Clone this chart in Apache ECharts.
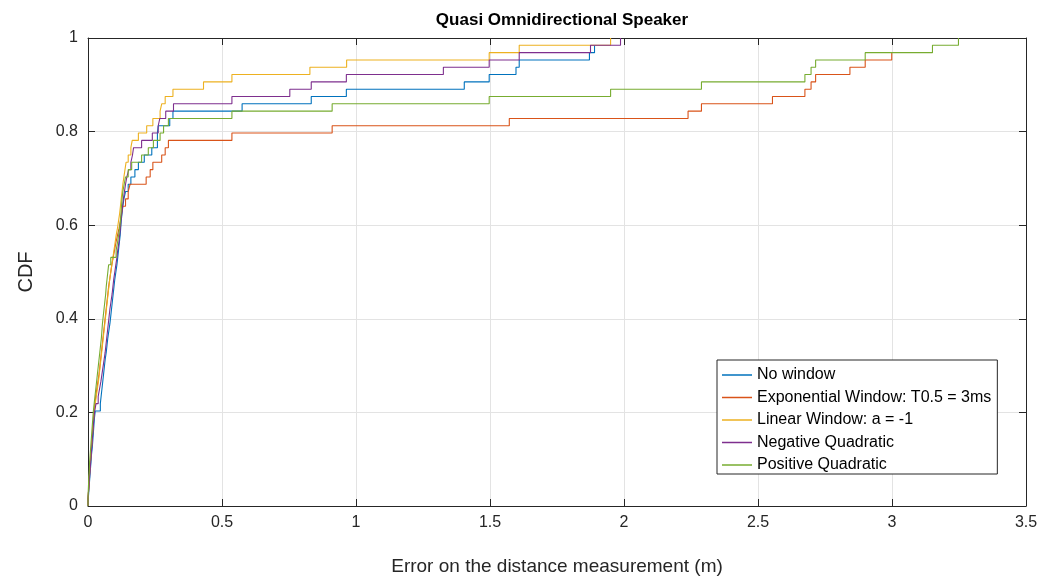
<!DOCTYPE html>
<html>
<head>
<meta charset="utf-8">
<script src="https://cdn.jsdelivr.net/npm/echarts@6/dist/echarts.min.js"></script>
<style>
  html, body { margin: 0; padding: 0; background: #fff; }
  #chart { width: 1045px; height: 577px; }
</style>
</head>
<body>
<div id="chart"></div>
<script>
  // sorted error samples (m) per method, 64 measurements each
  const seriesNames = ['No window', 'Exponential Window: T0.5 = 3ms', 'Linear Window: a = -1', 'Negative Quadratic', 'Positive Quadratic']
  const sampleCount = 64
  const xTicks = [0, 0.5, 1, 1.5, 2, 2.5, 3, 3.5]
  const yTicks = [0, 0.2, 0.4, 0.6, 0.8, 1]

  const noWindow = [
    0.001, 0.003, 0.005, 0.007, 0.009, 0.011, 0.013, 0.016, 0.018, 0.020,
    0.022, 0.024, 0.027, 0.046, 0.049, 0.052, 0.055, 0.058, 0.061, 0.064,
    0.068, 0.071, 0.074, 0.078, 0.082, 0.085, 0.088, 0.091, 0.094, 0.097,
    0.100, 0.104, 0.108, 0.111, 0.114, 0.117, 0.120, 0.122, 0.124, 0.127,
    0.130, 0.134, 0.140, 0.150, 0.160, 0.175, 0.188, 0.210, 0.238, 0.259,
    0.259, 0.262, 0.305, 0.317, 0.575, 0.833, 0.964, 1.404, 1.497, 1.597,
    1.609, 1.871, 1.890
  ]
  const expWindow = [
    0.000, 0.002, 0.004, 0.005, 0.007, 0.009, 0.011, 0.013, 0.015, 0.017,
    0.019, 0.021, 0.023, 0.026, 0.029, 0.033, 0.037, 0.041, 0.044, 0.047,
    0.050, 0.053, 0.056, 0.059, 0.062, 0.065, 0.068, 0.071, 0.074, 0.077,
    0.081, 0.085, 0.089, 0.094, 0.099, 0.104, 0.110, 0.116, 0.121, 0.125,
    0.130, 0.140, 0.150, 0.157, 0.217, 0.232, 0.242, 0.275, 0.288, 0.300,
    0.537, 0.911, 1.572, 2.239, 2.289, 2.554, 2.675, 2.698, 2.715, 2.843,
    2.900, 2.999
  ]
  const linWindow = [
    0.000, 0.002, 0.003, 0.005, 0.007, 0.009, 0.011, 0.013, 0.015, 0.017,
    0.019, 0.021, 0.024, 0.027, 0.031, 0.035, 0.039, 0.042, 0.045, 0.048,
    0.051, 0.054, 0.057, 0.060, 0.063, 0.066, 0.069, 0.072, 0.075, 0.078,
    0.081, 0.085, 0.089, 0.093, 0.097, 0.101, 0.105, 0.110, 0.114, 0.118,
    0.121, 0.124, 0.127, 0.130, 0.134, 0.138, 0.142, 0.150, 0.160, 0.165,
    0.188, 0.219, 0.242, 0.269, 0.275, 0.288, 0.317, 0.431, 0.537, 0.828,
    0.965, 1.497, 1.609, 1.950
  ]
  const negQuad = [
    0.000, 0.002, 0.004, 0.006, 0.008, 0.010, 0.012, 0.014, 0.016, 0.018,
    0.020, 0.022, 0.025, 0.030, 0.038, 0.043, 0.048, 0.052, 0.056, 0.060,
    0.064, 0.067, 0.070, 0.073, 0.076, 0.079, 0.082, 0.086, 0.090, 0.093,
    0.096, 0.100, 0.104, 0.108, 0.111, 0.115, 0.118, 0.121, 0.123, 0.126,
    0.129, 0.132, 0.136, 0.140, 0.145, 0.152, 0.160, 0.166, 0.170, 0.200,
    0.240, 0.262, 0.268, 0.290, 0.319, 0.537, 0.753, 0.833, 0.964, 1.326,
    1.497, 1.609, 1.875, 1.987
  ]
  const posQuad = [
    0.000, 0.001, 0.002, 0.003, 0.005, 0.006, 0.008, 0.010, 0.012, 0.014,
    0.016, 0.018, 0.020, 0.023, 0.026, 0.029, 0.032, 0.035, 0.038, 0.041,
    0.044, 0.047, 0.050, 0.052, 0.054, 0.057, 0.060, 0.063, 0.066, 0.068,
    0.071, 0.074, 0.077, 0.085, 0.105, 0.110, 0.114, 0.118, 0.121, 0.123,
    0.125, 0.127, 0.130, 0.135, 0.140, 0.150, 0.163, 0.200, 0.225, 0.244,
    0.269, 0.282, 0.300, 0.537, 0.911, 1.497, 1.950, 2.289, 2.675, 2.698,
    2.715, 2.900, 3.151, 3.248
  ]

  const colors = ['#0072BD', '#D95319', '#EDB120', '#7E2F8E', '#77AC30']
  const axisColor = '#262626'
  const font = 'Liberation Sans, Arial, Helvetica, sans-serif'

  // empirical cdf points: start at (x1, 0), then (xk, k/n)
  function cdfPoints (samples) {
    let pts = [[samples[0], 0]]
    samples.forEach((x, i) => {
      pts.push([x, (i + 1) / sampleCount])
    })
    return pts
  }

  const chart = echarts.init(document.getElementById('chart'))
  const allSamples = [noWindow, expWindow, linWindow, negQuad, posQuad]

  const tickLabel = { color: axisColor, fontSize: 16, fontFamily: font }
  const boxAxis = {
    min: 0,
    axisLine: { show: true, onZero: false, lineStyle: { color: axisColor, width: 1 } },
    axisTick: { show: true, inside: true, length: 7, lineStyle: { color: axisColor } },
    axisLabel: { show: false },
    splitLine: { show: false }
  }

  let options = {
    animation: false,
    backgroundColor: '#fff',
    color: colors,
    title: {
      text: 'Quasi Omnidirectional Speaker',
      left: 557,
      top: 7,
      textAlign: 'center',
      textStyle: { fontSize: 17, fontWeight: 'bold', color: '#000', fontFamily: font }
    },
    grid: { left: 88, right: 19, top: 38, bottom: 71, outerBoundsMode: 'none' },
    legend: {
      orient: 'vertical',
      left: 717,
      top: 360,
      data: seriesNames,
      icon: 'rect',
      itemWidth: 30,
      itemHeight: 1.5,
      itemGap: 6.5,
      padding: [7, 6, 1, 5],
      borderColor: '#262626',
      borderWidth: 1,
      backgroundColor: '#fff',
      textStyle: { fontSize: 16, lineHeight: 15, color: '#000', fontFamily: font }
    },
    xAxis: [
      {
        type: 'value',
        min: 0,
        max: xTicks[xTicks.length - 1],
        interval: 0.5,
        name: 'Error on the distance measurement (m)',
        nameLocation: 'middle',
        nameGap: 51,
        nameTextStyle: { fontSize: 19, color: axisColor, fontFamily: font },
        axisLine: { show: true, onZero: false, lineStyle: { color: axisColor, width: 1 } },
        axisTick: { show: true, inside: true, length: 7, lineStyle: { color: axisColor } },
        axisLabel: Object.assign({ margin: 9 }, tickLabel),
        splitLine: { show: true, lineStyle: { color: '#e3e3e3', width: 1 } }
      },
      Object.assign({}, boxAxis, { type: 'value', position: 'top', max: 3.5, interval: 0.5 })
    ],
    yAxis: [
      {
        type: 'value',
        min: 0,
        max: yTicks[yTicks.length - 1],
        interval: 0.2,
        name: 'CDF',
        nameLocation: 'middle',
        nameGap: 52,
        nameTextStyle: { fontSize: 20, color: axisColor, fontFamily: font },
        axisLine: { show: true, onZero: false, lineStyle: { color: axisColor, width: 1 } },
        axisTick: { show: true, inside: true, length: 7, lineStyle: { color: axisColor } },
        axisLabel: Object.assign({ margin: 10 }, tickLabel),
        splitLine: { show: true, lineStyle: { color: '#e3e3e3', width: 1 } }
      },
      Object.assign({}, boxAxis, { type: 'value', position: 'right', max: 1, interval: 0.2 })
    ],
    series: seriesNames.map((name, i) => {
      return {
        name: name,
        type: 'line',
        step: 'end',
        symbol: 'none',
        lineStyle: { width: 1.1 },
        data: cdfPoints(allSamples[i])
      }
    })
  }
  chart.setOption(options)
</script>
</body>
</html>
